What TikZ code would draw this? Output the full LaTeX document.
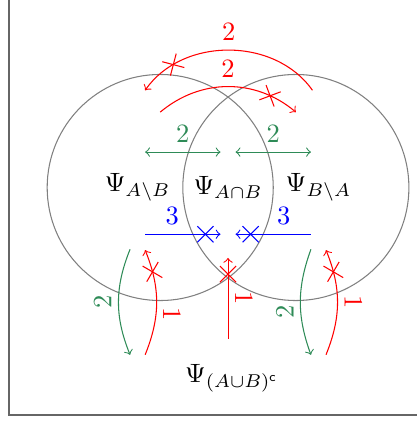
\documentclass[tikz,border=0pt]{standalone}
\usetikzlibrary{shapes.misc}
\definecolor{psigreen}{RGB}{46,139,87}
\newcommand{\psiset}[1]{\Psi_{#1}}

\begin{document}
\begin{tikzpicture}[line width=0.4pt,
    crossmark/.style={draw, cross out, sloped, minimum size=0.2cm, inner sep=0pt},
    rotlabel/.style={anchor=south, inner sep=2.5pt}]
  \useasboundingbox (-3.026,-3.125) rectangle (2.495,2.488);
  \draw[black!60, line width=0.6pt] (-2.906,-3.019) rectangle (2.8,2.8);
  \draw[gray] (-0.9,0) circle (1.5);
  \draw[gray] (0.9,0) circle (1.5);
  \node (psiA) at (-1.2,0) {$\psiset{A\setminus B}$};
  \node (psiAB) at (0,0) {$\psiset{A\cap B}$};
  \node (psiB) at (1.2,0) {$\psiset{B\setminus A}$};
  \node (psiC) at (0.05,-2.53) {$\psiset{(A\cup B)^{\mathsf{c}}}$};
  \coordinate (ro1) at (1.12,1.29);
  \coordinate (ro2) at (-1.1,1.29);
  \coordinate (ri1) at (-0.9,1.0);
  \coordinate (ri2) at (0.9,1.0);
  \coordinate (gl1) at (-1.1,0.47);
  \coordinate (gl2) at (-0.1,0.47);
  \coordinate (gr1) at (0.1,0.47);
  \coordinate (gr2) at (1.1,0.47);
  \coordinate (bl1) at (-1.1,-0.62);
  \coordinate (bl2) at (-0.1,-0.62);
  \coordinate (br1) at (1.1,-0.62);
  \coordinate (br2) at (0.1,-0.62);
  \coordinate (dl1) at (-1.3,-0.82);
  \coordinate (dl2) at (-1.3,-2.22);
  \coordinate (ul1) at (-1.1,-2.22);
  \coordinate (ul2) at (-1.1,-0.83);
  \coordinate (dr1) at (1.1,-0.82);
  \coordinate (dr2) at (1.1,-2.22);
  \coordinate (ur1) at (1.3,-2.22);
  \coordinate (ur2) at (1.3,-0.83);
  \coordinate (um1) at (0,-2.01);
  \coordinate (um2) at (0,-0.935);
  \draw[red, ->] (ro1) to[bend right=55]
    node[crossmark, pos=0.8] {} node[midway, above] {$2$} (ro2);
  \draw[red, ->] (ri1) to[bend left=40]
    node[crossmark, pos=0.8] {} node[midway, above] {$2$} (ri2);
  \draw[psigreen, <->] (gl1) -- node[midway, above] {$2$} (gl2);
  \draw[psigreen, <->] (gr1) -- node[midway, above] {$2$} (gr2);
  \draw[blue, ->] (bl1) -- node[crossmark, pos=0.8] {} node[pos=0.36, above] {$3$} (bl2);
  \draw[blue, ->] (br1) -- node[crossmark, pos=0.8] {} node[pos=0.36, above] {$3$} (br2);
  \draw[psigreen, ->] (dl1) to[bend right=22]
    node[midway, rotlabel, rotate=90] {$2$} (dl2);
  \draw[red, ->] (ul1) to[bend right=22]
    node[crossmark, pos=0.8] {} node[pos=0.38, rotlabel, rotate=-90] {$1$} (ul2);
  \draw[psigreen, ->] (dr1) to[bend right=20]
    node[pos=0.6, rotlabel, rotate=90] {$2$} (dr2);
  \draw[red, ->] (ur1) to[bend right=22]
    node[crossmark, pos=0.8] {} node[midway, rotlabel, rotate=-90] {$1$} (ur2);
  \draw[red, ->] (um1) --
    node[crossmark, pos=0.8] {} node[midway, rotlabel, rotate=-90] {$1$} (um2);
\end{tikzpicture}
\end{document}
